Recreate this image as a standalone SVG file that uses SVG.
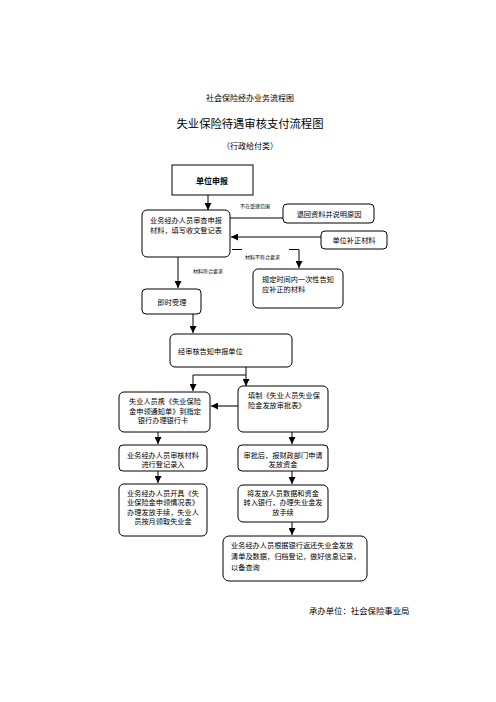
<svg xmlns="http://www.w3.org/2000/svg" width="496" height="702" viewBox="0 0 496 702">
<style>
text{font-family:"Noto Sans CJK SC","Liberation Sans",sans-serif;fill:#000}
.t{font-size:7.2px}
.s{font-size:5px}
.c{text-anchor:middle}
.box{fill:#fff;stroke:#000;stroke-width:1}
.ln{fill:none;stroke:#000;stroke-width:1}
.gl{fill:none;stroke:#555;stroke-width:1.6}
</style>
<defs>
<marker id="ar" viewBox="0 0 10 10" refX="10" refY="5" markerWidth="7" markerHeight="7" markerUnits="userSpaceOnUse" orient="auto">
<path d="M0,0 L10,5 L0,10 z" fill="#000"/>
</marker>
</defs>
<rect width="496" height="702" fill="#fff"/>
<text x="250" y="101" class="c" style="font-size:8px">社会保险经办业务流程图</text>
<text x="250" y="128" class="c" style="font-size:11.3px">失业保险待遇审核支付流程图</text>
<text x="250" y="149" class="c" style="font-size:8px">（行政给付类）</text>

<g id="connectors">
<path class="ln" d="M208,195 V210" marker-end="url(#ar)"/>
<path class="ln" d="M230,218 H283"/>
<path class="gl" d="M321,237 H231" marker-end="url(#ar)"/>
<path class="ln" d="M232,249.5 H242"/>
<path class="ln" d="M289,249.5 H299 V268" marker-end="url(#ar)"/>
<path class="ln" d="M178,257 V288" marker-end="url(#ar)"/>
<path class="ln" d="M193,314 V333" marker-end="url(#ar)"/>
<path class="ln" d="M246,367 V386" marker-end="url(#ar)"/>
<path class="ln" d="M246,375 H193 V391" marker-end="url(#ar)"/>
<path class="gl" d="M238,406 H211" marker-end="url(#ar)"/>
<path class="ln" d="M158,432 V444" marker-end="url(#ar)"/>
<path class="ln" d="M158,471 V483" marker-end="url(#ar)"/>
<path class="ln" d="M292,432 V444" marker-end="url(#ar)"/>
<path class="ln" d="M292,471 V484" marker-end="url(#ar)"/>
<path class="ln" d="M292,522 V535" marker-end="url(#ar)"/>
</g>
<text x="240" y="208" class="s">不在受理范围</text>
<text x="245" y="259" class="s">材料不符合要求</text>
<text x="193" y="273" class="s">材料符合要求</text>

<g id="n1">
<rect class="box" x="172" y="165" width="81" height="30"/>
<text x="212" y="184" class="c" style="font-size:8px;font-weight:bold">单位申报</text>
</g>
<g id="n2">
<rect class="box" x="142" y="210" width="88" height="47" rx="5"/>
<text x="150" y="223" class="t">业务经办人员审查申报</text>
<text x="150" y="233" class="t">材料，填写收文登记表</text>
</g>
<g id="n3">
<rect class="box" x="283" y="204" width="91" height="19" rx="4"/>
<text x="329" y="216.5" class="t c">退回资料并说明原因</text>
</g>
<g id="n4">
<rect class="box" x="321" y="231" width="66" height="18" rx="4"/>
<text x="354" y="243" class="t c">单位补正材料</text>
</g>
<g id="n5">
<rect class="box" x="253" y="269" width="90" height="39" rx="5"/>
<text x="262" y="282" class="t">规定时间内一次性告知</text>
<text x="262" y="292" class="t">应补正的材料</text>
</g>
<g id="n6">
<rect class="box" x="142" y="289" width="59" height="25" rx="4"/>
<text x="172" y="304.5" class="t c">即时受理</text>
</g>
<g id="n7">
<rect class="box" x="170" y="334" width="122" height="33" rx="5"/>
<text x="178" y="353.5" class="t">经审核告知申报单位</text>
</g>
<g id="n8">
<rect class="box" x="119" y="392" width="91" height="40" rx="5"/>
<text x="165" y="403.5" class="t c">失业人员携《失业保险</text>
<text x="165" y="413.5" class="t c">金申领通知单》到指定</text>
<text x="163" y="423" class="t c">银行办理银行卡</text>
</g>
<g id="n9">
<rect class="box" x="238" y="386" width="90" height="46" rx="5"/>
<text x="248" y="398" class="t">填制《失业人员失业保</text>
<text x="248" y="408" class="t">险金发放审批表》</text>
</g>
<g id="n10">
<rect class="box" x="119" y="445" width="88" height="26" rx="4"/>
<text x="163" y="457.5" class="t c">业务经办人员审核材料</text>
<text x="163" y="467" class="t c">进行登记录入</text>
</g>
<g id="n11">
<rect class="box" x="238" y="445" width="90" height="26" rx="4"/>
<text x="283" y="457.5" class="t c">审批后，报财政部门申请</text>
<text x="283" y="467" class="t c">发放资金</text>
</g>
<g id="n12">
<rect class="box" x="119" y="484" width="88" height="52" rx="5"/>
<text x="163" y="496" class="t c">业务经办人员开具《失</text>
<text x="163" y="505" class="t c">业保险金申领情况表》</text>
<text x="163" y="514.5" class="t c">办理发放手续，失业人</text>
<text x="163" y="524" class="t c">员按月领取失业金</text>
</g>
<g id="n13">
<rect class="box" x="238" y="485" width="90" height="37" rx="5"/>
<text x="283" y="496" class="t c">将发放人员数据和资金</text>
<text x="283" y="505" class="t c">转入银行，办理失业金发</text>
<text x="283" y="514.5" class="t c">放手续</text>
</g>
<g id="n14">
<rect class="box" x="223" y="536" width="144" height="45" rx="6"/>
<text x="231" y="548" class="t">业务经办人员根据银行返还失业金发放</text>
<text x="231" y="559" class="t">清单及数据，归档登记，做好信息记录，</text>
<text x="231" y="569.5" class="t">以备查询</text>
</g>
<text x="309" y="614" style="font-size:8.4px">承办单位：社会保险事业局</text>
</svg>
